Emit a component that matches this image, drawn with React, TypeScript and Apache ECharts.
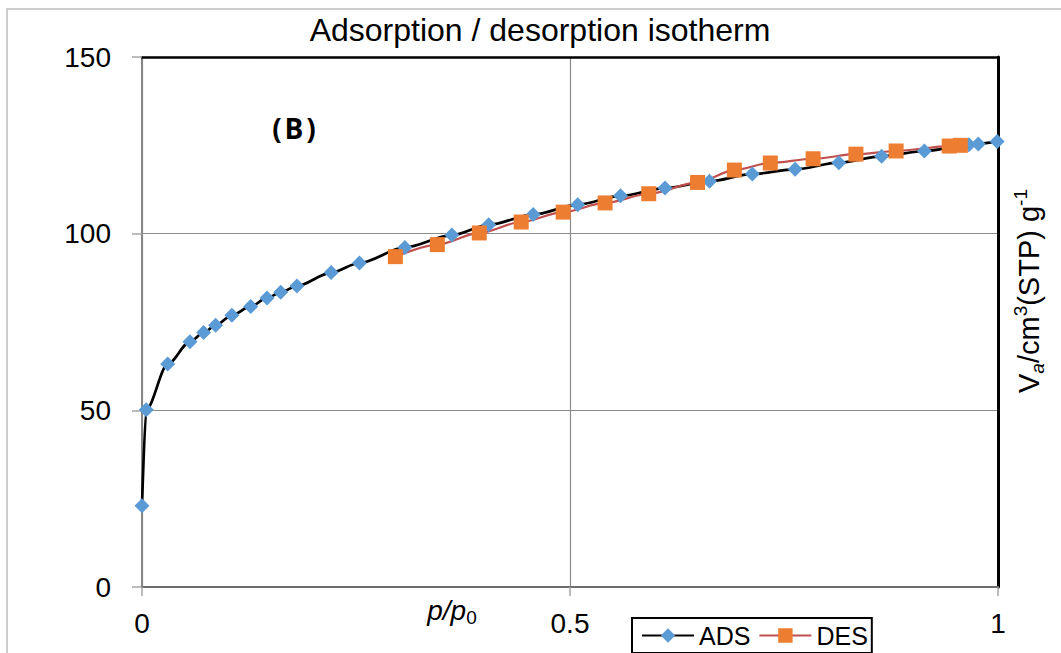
import React, { useEffect, useRef } from "react";
import * as echarts from "echarts";

const adsP = [0.0, 0.005, 0.03, 0.056, 0.072, 0.086, 0.105, 0.127, 0.146, 0.162, 0.181, 0.221, 0.254, 0.307, 0.362, 0.405, 0.457, 0.509, 0.559, 0.611, 0.663, 0.713, 0.763, 0.814, 0.864, 0.914, 0.966, 0.977, 0.999];
const adsV = [23.0, 50.2, 63.1, 69.4, 72.0, 74.1, 76.9, 79.4, 81.8, 83.4, 85.2, 89.0, 91.7, 96.1, 99.6, 102.5, 105.4, 108.2, 110.7, 112.9, 114.8, 116.9, 118.2, 120.1, 121.9, 123.4, 125.2, 125.4, 126.1];
const desP = [0.956, 0.943, 0.881, 0.834, 0.784, 0.734, 0.692, 0.649, 0.592, 0.541, 0.492, 0.443, 0.394, 0.345, 0.296];
const desV = [125.0, 124.8, 123.4, 122.5, 121.2, 120.0, 118.0, 114.5, 111.3, 108.7, 106.1, 103.3, 100.2, 96.9, 93.5];
const xTickLabels: Record<string, string> = { "0": "0", "0.5": "0.5", "1": "1" };
const seriesNames = ["ADS", "DES"];
const titleText = "Adsorption / desorption isotherm";

const FONT = "'Liberation Sans', Arial, sans-serif";

export default function App() {
  const ref = useRef<HTMLDivElement>(null);
  useEffect(() => {
    if (!ref.current) return;
    const chart = echarts.init(ref.current, null, { renderer: "svg" });
    const ads = adsP.map((p, i) => [p, adsV[i]]);
    const des = desP.map((p, i) => [p, desV[i]]);
    chart.setOption({
      animation: false,
      backgroundColor: "#fff",
      textStyle: { fontFamily: FONT },
      grid: { left: 142, right: 63, top: 57, bottom: 66 },
      xAxis: [
        {
          type: "value",
          min: 0,
          max: 1,
          interval: 0.5,
          position: "bottom",
          axisLine: { show: true, onZero: false, lineStyle: { color: "#6e6e6e", width: 2 } },
          axisTick: { show: true, length: 9, lineStyle: { color: "#a6a6a6", width: 1.5 } },
          axisLabel: {
            fontSize: 28,
            margin: 22,
            color: "#000",
            fontFamily: FONT,
            formatter: (v: number) => xTickLabels[String(v)] ?? String(v),
          },
          splitLine: { show: true, lineStyle: { color: "#8c8c8c", width: 1.2 } },
        },
        {
          type: "value",
          min: 0,
          max: 1,
          interval: 0.5,
          position: "top",
          axisLine: { show: true, onZero: false, lineStyle: { color: "#000", width: 2.5 } },
          axisTick: { show: false },
          axisLabel: { show: false },
          splitLine: { show: false },
        },
      ],
      yAxis: [
        {
          type: "value",
          min: 0,
          max: 150,
          interval: 50,
          position: "left",
          axisLine: { show: true, onZero: false, lineStyle: { color: "#868686", width: 2 } },
          axisTick: { show: true, length: 10, lineStyle: { color: "#a6a6a6", width: 1.5 } },
          axisLabel: { fontSize: 28, margin: 31, color: "#000", fontFamily: FONT },
          splitLine: { show: true, lineStyle: { color: "#8c8c8c", width: 1.2 } },
        },
        {
          type: "value",
          min: 0,
          max: 150,
          interval: 50,
          position: "right",
          axisLine: { show: true, onZero: false, lineStyle: { color: "#000", width: 3 } },
          axisTick: { show: false },
          axisLabel: { show: false },
          splitLine: { show: false },
        },
      ],
      legend: {
        left: 632,
        top: 618,
        orient: "horizontal",
        padding: [5, 4, 5, 9],
        itemGap: 8,
        itemWidth: 52,
        itemHeight: 18,
        borderColor: "#000",
        borderWidth: 2,
        data: seriesNames,
        textStyle: { fontSize: 25, color: "#000", fontFamily: FONT },
      },
      series: [
        {
          name: seriesNames[0],
          type: "line",
          data: ads,
          smooth: 0.3,
          smoothMonotone: "x",
          clip: false,
          symbol: "diamond",
          symbolSize: 15,
          itemStyle: { color: "#5B9BD5" },
          lineStyle: { color: "#000", width: 2.7 },
        },
        {
          name: seriesNames[1],
          type: "line",
          data: des,
          smooth: 0.3,
          smoothMonotone: "x",
          clip: false,
          symbol: "rect",
          symbolSize: 15,
          itemStyle: { color: "#ED7D31" },
          lineStyle: { color: "#C0504D", width: 2.2 },
        },
      ],
      graphic: [
        {
          type: "rect",
          shape: { x: 7, y: 9, width: 1200, height: 800 },
          style: { fill: "none", stroke: "#bdbdbd", lineWidth: 1.5 },
          silent: true,
          z: -10,
        },
        {
          type: "text",
          x: 540,
          y: 30,
          style: {
            text: titleText,
            fontSize: 32,
            fontFamily: FONT,
            fill: "#000",
            textAlign: "center",
            textVerticalAlign: "middle",
          },
        },
        {
          type: "text",
          x: 294,
          y: 128,
          style: {
            text: "(\u200AB\u200A)",
            fontSize: 28,
            fontWeight: "bold",
            fontFamily: "'Open Sans', sans-serif",
            fill: "#000",
            textAlign: "center",
            textVerticalAlign: "middle",
          },
        },
        {
          type: "text",
          x: 452,
          y: 610,
          style: {
            text: "{i|p/p}{sub|0}",
            textAlign: "center",
            textVerticalAlign: "middle",
            rich: {
              i: { fontSize: 28, fontStyle: "italic", fontFamily: FONT, fill: "#000", lineHeight: 34 },
              sub: { fontSize: 19, fontFamily: FONT, fill: "#000", lineHeight: 20, verticalAlign: "bottom" },
            },
          },
        },
        {
          type: "text",
          x: 1029,
          y: 291,
          rotation: Math.PI / 2,
          style: {
            text: "{n|V}{subi|a}{n|/cm}{sup|3}{n|(STP) g}{sup|-1}",
            textAlign: "center",
            textVerticalAlign: "middle",
            rich: {
              n: { fontSize: 29, fontFamily: FONT, fill: "#000", lineHeight: 36 },
              subi: { fontSize: 19, fontStyle: "italic", fontFamily: FONT, fill: "#000", lineHeight: 20, verticalAlign: "bottom" },
              sup: { fontSize: 19, fontFamily: FONT, fill: "#000", lineHeight: 22, verticalAlign: "top" },
            },
          },
        },
      ],
    });
    return () => chart.dispose();
  }, []);
  return (
    <div
      ref={ref}
      style={{ position: "absolute", left: 0, top: 0, width: 1061, height: 653 }}
    />
  );
}
